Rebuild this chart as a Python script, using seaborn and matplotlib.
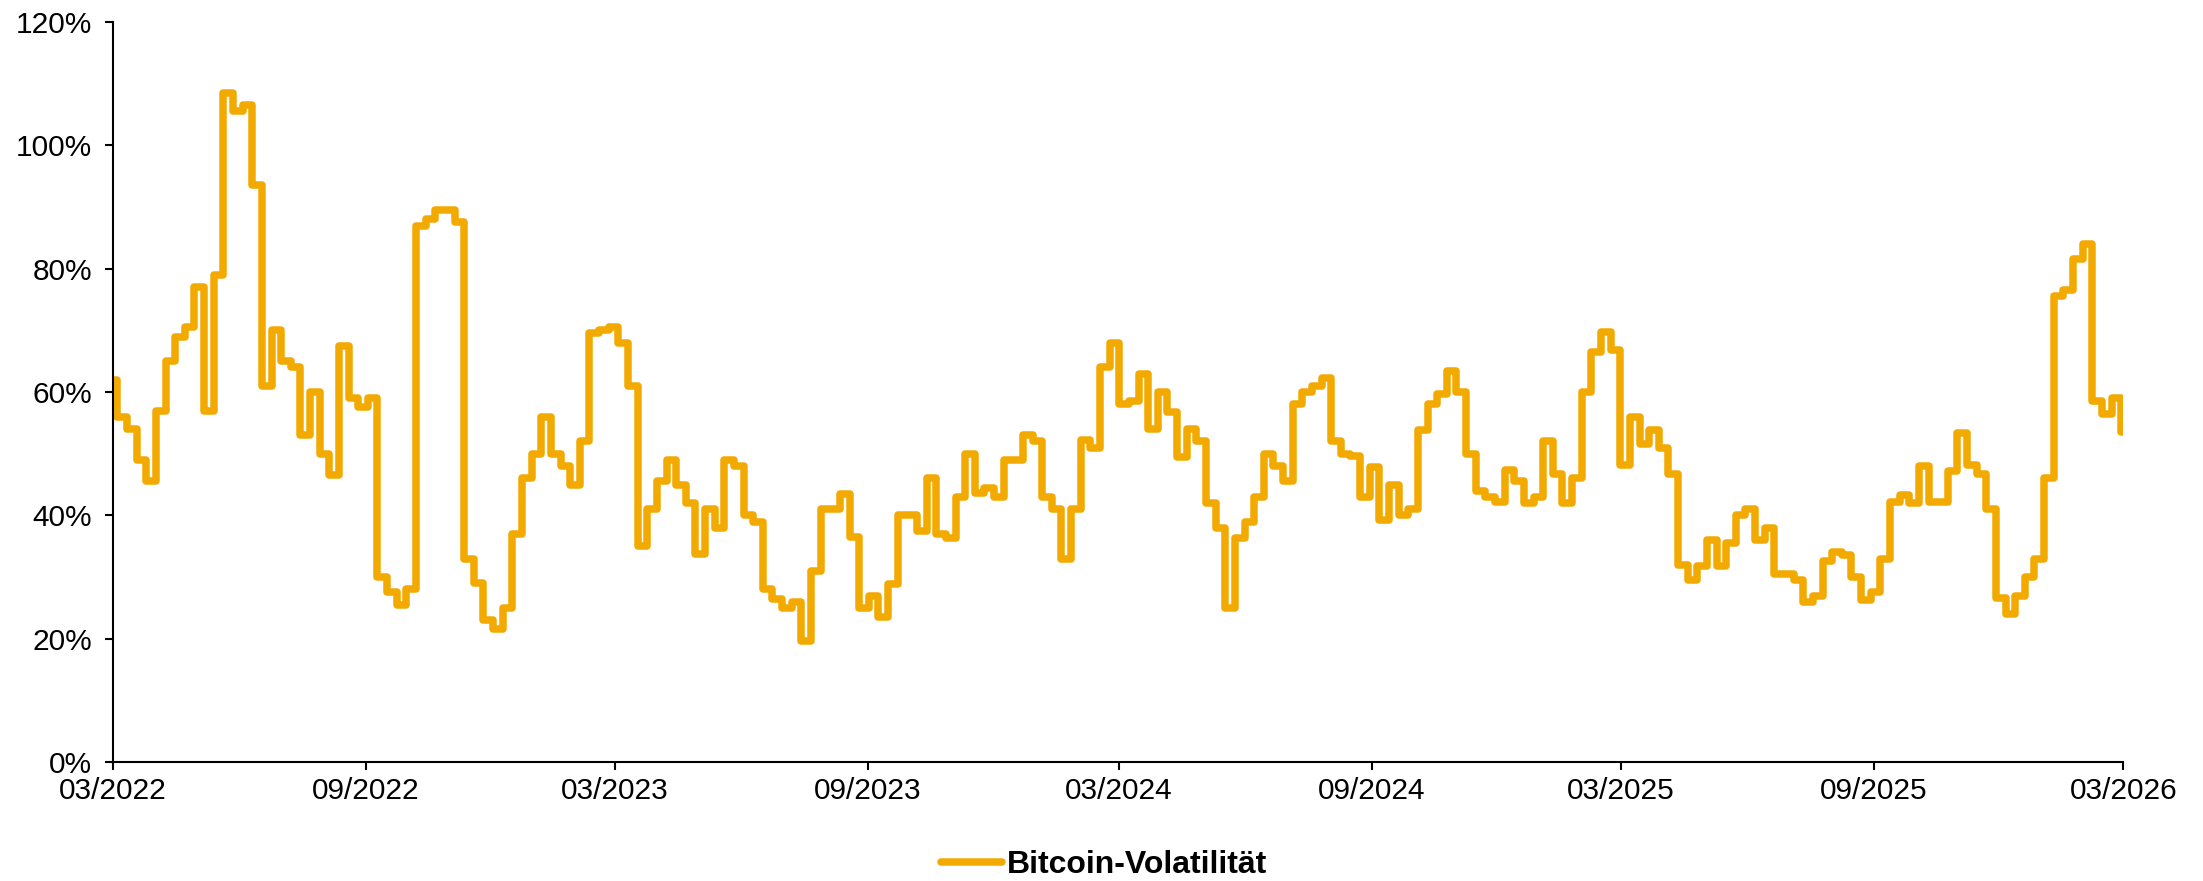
"""Bitcoin volatility line chart, 03/2022 - 03/2026."""

import matplotlib

matplotlib.use("Agg")
import matplotlib.dates as mdates
import matplotlib.pyplot as plt
import pandas as pd
import seaborn as sns
from matplotlib.ticker import FuncFormatter, MultipleLocator

# weekly readings (in %) starting 2022-03-01
vol = [
    62, 56, 54, 49, 45.5, 57, 65, 69, 70.5, 77,
    57, 79, 108.5, 105.5, 106.5, 93.5, 61, 70, 65, 64,
    53, 60, 50, 46.5, 67.5, 59, 57.5, 59, 30, 27.5,
    25.5, 28, 87, 88, 89.5, 89.5, 87.5, 33, 29, 23,
    21.5, 25, 37, 46, 50, 56, 50, 48, 45, 52,
    69.5, 70, 70.5, 68, 61, 35, 41, 45.6, 49, 45,
    42, 33.7, 41, 38, 49, 48, 40, 39, 28, 26.5,
    25, 26, 19.6, 31, 41, 41, 43.5, 36.5, 25, 27,
    23.6, 28.8, 40, 40, 37.5, 46, 37, 36.3, 43, 50,
    43.6, 44.5, 43, 49, 49, 53, 52, 43, 41, 33,
    41, 52.3, 51, 64, 68, 58, 58.6, 63, 54, 60,
    56.7, 49.5, 54, 52, 42, 38, 25, 36.3, 39, 43,
    50, 48, 45.5, 58, 60, 61, 62.3, 52, 50, 49.7,
    43, 47.9, 39.3, 45, 40, 41, 53.8, 58, 59.7, 63.4,
    60, 50, 44, 43, 42.2, 47.4, 45.6, 42, 43, 52,
    46.7, 42, 46, 60, 66.5, 69.7, 66.8, 48.2, 56, 51.5,
    53.8, 51, 46.7, 32, 29.5, 31.8, 36, 31.8, 35.5, 40,
    41, 36, 38, 30.5, 30.5, 29.5, 26, 27, 32.6, 34,
    33.5, 30, 26.2, 27.5, 33, 42.2, 43.3, 42, 48, 42.2,
    42.2, 47.2, 53.4, 48.2, 46.7, 41, 26.6, 24, 27, 30,
    33, 46, 75.5, 76.5, 81.6, 84, 58.6, 56.5, 59, 53.5,
]
start_date = "2022-03-01"
series_label = "Bitcoin-Volatilität"
tick_dates = pd.date_range("2022-03-01", "2026-03-01", freq="6MS")

dates = pd.date_range(start_date, periods=len(vol), freq="7D")
df = pd.DataFrame({"date": dates, "vol": vol})

sns.set_style("ticks")
plt.rcParams["font.family"] = ["Liberation Sans", "DejaVu Sans"]

fig = plt.figure(figsize=(22.03, 8.81), dpi=100)
ax = fig.add_axes([0.0511, 0.135, 0.9127, 0.840])

sns.lineplot(data=df, x="date", y="vol", ax=ax, color="#F2A900",
             linewidth=5.4, drawstyle="steps-mid", label=series_label)

ax.set_ylim(0, 120)
ax.set_xlim(pd.Timestamp("2022-03-01"), pd.Timestamp("2026-03-01"))
ax.yaxis.set_major_locator(MultipleLocator(20))
ax.yaxis.set_major_formatter(FuncFormatter(lambda v, _: f"{v:.0f}%"))
ax.set_xticks(tick_dates)
ax.xaxis.set_major_formatter(mdates.DateFormatter("%m/%Y"))
ax.set_xlabel("")
ax.set_ylabel("")

for side in ["top", "right"]:
    ax.spines[side].set_visible(False)
for side in ["left", "bottom"]:
    ax.spines[side].set_linewidth(1.5)
    ax.spines[side].set_color("black")
ax.tick_params(axis="both", labelsize=21.5, colors="black", width=1.5, length=5.5)
ax.tick_params(axis="y", pad=9)
ax.tick_params(axis="x", pad=5)

leg = ax.legend(loc="upper center", bbox_to_anchor=(0.493, -0.08), frameon=False,
                handlelength=1.9, handletextpad=0.15,
                prop={"size": 23, "weight": "bold"})
for text in leg.get_texts():
    text.set_color("black")
for line in leg.get_lines():
    line.set_linewidth(5.4)
    line.set_drawstyle("default")

fig.savefig("out.png", dpi=100)
